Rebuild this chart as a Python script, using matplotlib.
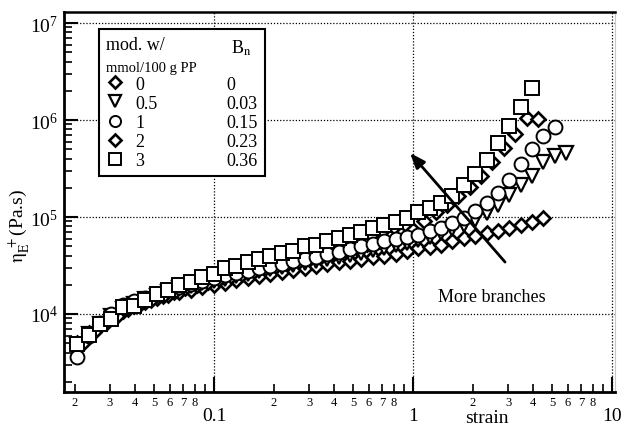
import math
import matplotlib
matplotlib.use('Agg')
import matplotlib.pyplot as plt
from matplotlib.lines import Line2D
from matplotlib.ticker import LogLocator, FuncFormatter, NullFormatter

plt.rcParams['font.family'] = ['Liberation Serif', 'DejaVu Serif']
plt.rcParams['mathtext.fontset'] = 'stix'

# ---------------- data ----------------
strain = [0.0205, 0.0234, 0.0267, 0.0304, 0.0347, 0.0396, 0.0452, 0.0515,
          0.0588, 0.0670, 0.0765, 0.0872, 0.0995, 0.1135, 0.1294, 0.1476,
          0.1684, 0.1921, 0.2191, 0.2499, 0.2851, 0.3252, 0.3710, 0.4231,
          0.4827, 0.5505, 0.6280, 0.7161, 0.8169, 0.9318, 1.063, 1.212,
          1.383, 1.577, 1.799, 2.052, 2.341, 2.670, 3.046, 3.474, 3.963,
          4.520, 5.157, 5.882]

strain_mod2 = [0.0219, 0.0250, 0.0285, 0.0326, 0.0371, 0.0424, 0.0483, 0.0551,
               0.0629, 0.0717, 0.0818, 0.0933, 0.1065, 0.1214, 0.1385, 0.1579,
               0.1802, 0.2055, 0.2344, 0.2674, 0.3051, 0.3480, 0.3970, 0.4527,
               0.5165, 0.5890, 0.6720, 0.7662, 0.8741, 0.9970, 1.137, 1.297,
               1.480, 1.687, 1.925, 2.196, 2.505, 2.857, 3.259, 3.717, 4.240]

eta_mod0 = [5000, 6300, 7800, 9300, 10800, 12000, 13200, 14500, 15600, 16800,
            17800, 18800, 19800, 21000, 22300, 23500, 24800, 26000, 27300,
            28500, 29800, 31000, 32500, 34000, 35500, 37000, 38500, 40000,
            42000, 44300, 47500, 48700, 51000, 56200, 60400, 63400, 68000,
            71500, 76800, 82500, 88700, 97600]

eta_mod05 = [4800, 6200, 7900, 9600, 11300, 12800, 14200, 15500, 17000, 18500,
             19500, 21000, 22000, 23000, 24500, 26000, 27500, 29000, 30500,
             32000, 33500, 35000, 37000, 39000, 41000, 43000, 45500, 48000,
             51000, 54000, 58000, 62000, 68000, 75000, 83000, 94000, 110000,
             134000, 167000, 214000, 265000, 365000, 428000, 454000]

eta_mod1 = [3600, 6000, 8000, 10000, 12500, 13500, 14500, 16000, 17500, 19000,
            20500, 22000, 23500, 25000, 26500, 28000, 29500, 31000, 33000,
            35000, 37000, 39000, 41500, 44000, 47000, 50000, 53000, 56000,
            59000, 62000, 65000, 71000, 77000, 87000, 98000, 115000, 140000,
            178000, 239000, 350000, 500000, 690000, 850000]

eta_mod2 = [5000, 6500, 8000, 9500, 11200, 12700, 14000, 15500, 17000, 18500,
            20000, 21500, 23000, 24500, 26000, 27500, 29500, 31500, 33500,
            35500, 38000, 40500, 43000, 46000, 49500, 53000, 57000, 61500,
            67000, 74000, 92000, 113000, 133000, 165000, 205000, 267000,
            365000, 520000, 710000, 1050000, 1020000]

eta_mod3 = [4900, 6100, 7900, 8900, 11700, 12200, 13800, 16200, 17500, 19800,
            21500, 24000, 25800, 29500, 31000, 34200, 36800, 40000, 43000,
            45000, 49800, 52000, 56000, 60500, 65000, 70000, 77000, 82000,
            89000, 97000, 113000, 125000, 140000, 165000, 215000, 275000,
            385000, 575000, 865000, 1370000, 2160000]

mod_labels = ['0', '0.5', '1', '2', '3']
bn_labels = ['0', '0.03', '0.15', '0.23', '0.36']

# ---------------- figure ----------------
fig = plt.figure(figsize=(6.22, 4.31), dpi=100)
ax = fig.add_axes([0.1029, 0.0882, 0.8859, 0.8817])
ax.set_xscale('log')
ax.set_yscale('log')
ax.set_xlim(0.01762, 10.35)
ax.set_ylim(1570, 1.30e7)

mk = dict(linestyle='none', markerfacecolor='white', markeredgecolor='black')
h0, = ax.plot(strain[:len(eta_mod0)], eta_mod0, marker='D', ms=7.4, mew=1.9, zorder=3, **mk)
h05, = ax.plot(strain[:len(eta_mod05)], eta_mod05, marker='v', ms=10.5, mew=1.6, zorder=4, **mk)
h2, = ax.plot(strain_mod2[:len(eta_mod2)], eta_mod2, marker='D', ms=7.4, mew=1.9, zorder=5, **mk)
h1, = ax.plot(strain[:len(eta_mod1)], eta_mod1, marker='o', ms=10, mew=1.4, zorder=6, **mk)
h3, = ax.plot(strain[:len(eta_mod3)], eta_mod3, marker='s', ms=10.5, mew=1.4, zorder=7, **mk)

# grid
ax.grid(True, which='major', color='black', linestyle=(0, (1, 1.5)), linewidth=0.9)
ax.set_axisbelow(True)

# spines
for s in ['left', 'bottom']:
    ax.spines[s].set_linewidth(2.0)
ax.spines['top'].set_linewidth(1.8)
ax.spines['right'].set_color('#c8c8c8')
ax.spines['right'].set_linewidth(0.8)

# ticks
ax.xaxis.set_major_locator(LogLocator(base=10, numticks=10))
ax.xaxis.set_minor_locator(LogLocator(base=10, subs=[2, 3, 4, 5, 6, 7, 8, 9], numticks=20))
ax.yaxis.set_major_locator(LogLocator(base=10, numticks=10))
ax.yaxis.set_minor_locator(LogLocator(base=10, subs=[2, 3, 4, 5, 6, 7, 8, 9], numticks=20))


def major_fmt(v, pos):
    return f'{v:g}'


def minor_fmt(v, pos):
    m = v / 10 ** math.floor(math.log10(v) + 1e-9)
    d = int(round(m))
    return str(d) if 2 <= d <= 8 else ''


ax.xaxis.set_major_formatter(FuncFormatter(major_fmt))
ax.xaxis.set_minor_formatter(FuncFormatter(minor_fmt))
ax.yaxis.set_minor_formatter(NullFormatter())

ax.tick_params(axis='both', which='both', direction='in', top=False, right=False)
ax.tick_params(axis='x', which='major', length=11, width=1.5, labelsize=14, pad=11)
ax.tick_params(axis='x', which='minor', length=6, width=1.2, labelsize=9, pad=3)
ax.tick_params(axis='y', which='major', length=10, width=1.5, labelsize=14, pad=4)
ax.tick_params(axis='y', which='minor', length=6, width=1.2)

ax.set_xlabel('strain', fontsize=14)
ax.xaxis.set_label_coords(0.768, -0.045)
ax.set_ylabel(r'$\mathrm{\eta}_{\mathrm{E}}^{\ +}$(Pa.s)', fontsize=14)
ax.yaxis.set_label_coords(-0.06, 0.44)

# arrow and annotation
ax.annotate('', xy=(0.966, 4.57e5), xytext=(2.90, 3.43e4),
            arrowprops=dict(arrowstyle='-|>,head_length=0.9,head_width=0.35',
                            color='black', lw=2.0, shrinkA=0, shrinkB=0), zorder=8)
ax.text(2.49, 1.53e4, 'More branches', fontsize=13, ha='center', va='center')

# legend
blank = Line2D([], [], linestyle='none')
handles = [h0, h05, h1, h2, h3] + [blank] * 5
labels = mod_labels + bn_labels
leg = ax.legend(handles, labels, ncol=2, loc='upper left',
                bbox_to_anchor=(0.0635, 0.955), borderaxespad=0,
                fancybox=False, edgecolor='black', framealpha=1,
                title='mod. w/', title_fontsize=13, alignment='left',
                fontsize=13, handlelength=1.0, handletextpad=0.6,
                columnspacing=2.2, labelspacing=0.12, borderpad=0.4,
                markerscale=0.8)
leg._legend_box.sep = 16
leg.get_frame().set_linewidth(1.5)
leg.set_zorder(10)
ax.annotate(r'B$_{\mathrm{n}}$', xy=(0.80, 0.875), xycoords=leg, fontsize=13,
            ha='left', va='center', zorder=11)
ax.annotate('mmol/100 g PP', xy=(0.04, 0.74), xycoords=leg, fontsize=10.5,
            ha='left', va='center', zorder=11)

fig.savefig('out.png', dpi=100)
